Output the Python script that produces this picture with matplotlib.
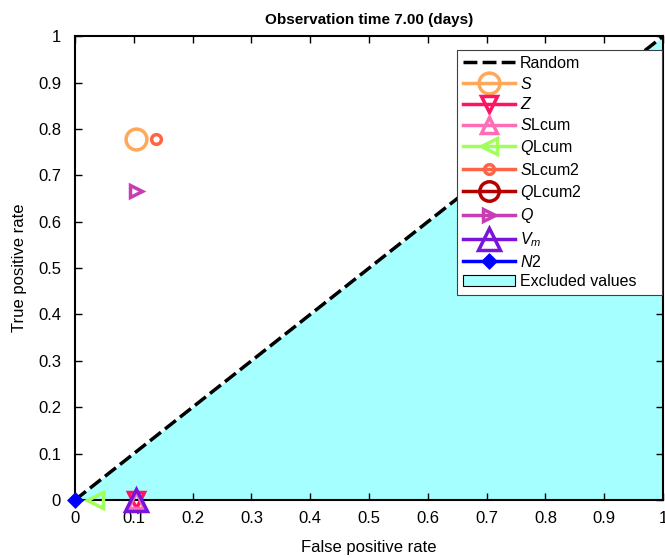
import matplotlib
matplotlib.use("Agg")
import matplotlib.pyplot as plt
from matplotlib.patches import Patch

plt.rcParams['font.family'] = ['Liberation Sans', 'DejaVu Sans']
plt.rcParams['mathtext.fontset'] = 'custom'
plt.rcParams['mathtext.it'] = 'Liberation Sans:italic'
plt.rcParams['mathtext.rm'] = 'Liberation Sans'

# ROC points per classifier (false positive rate, true positive rate)
# QLcum2 has no visible point in the chart, only a legend entry
names = [r'$S$', r'$Z$', r'$S$Lcum', r'$Q$Lcum', r'$S$Lcum2', r'$Q$Lcum2', r'$Q$', r'$V_m$', r'$N$2']
fpr = [3/29, 3/29, 3/29, 1/29, 4/29, float('nan'), 3/29, 3/29, 0.0]
tpr = [7/9, 0.0, 0.0, 0.0, 7/9, float('nan'), 6/9, 0.0, 0.0]
colors = ['#FFA85A', '#FF1464', '#FF6EB4', '#A0FF5A', '#FF6446', '#B40000', '#C83CB4', '#7814DC', '#0000FF']
markers = ['o', 'v', '^', '<', 'o', 'o', '>', '^', 'D']
sizes = [15, 12, 12, 12, 7, 14, 9, 16, 6]
filled = [False, False, False, False, False, False, False, False, True]

fig = plt.figure(figsize=(6.65, 5.58), dpi=100)
ax = fig.add_axes([0.1128, 0.104, 0.8842, 0.831])

ax.fill_between([0, 1], [0, 1], [0, 0], color='#A6FFFF', linewidth=0, zorder=0)
ax.plot([0, 1], [0, 1], '--', color='black', linewidth=2.5, dashes=(4, 1.5), label='Random', zorder=1)

for n, x, y, c, m, s, f in zip(names, fpr, tpr, colors, markers, sizes, filled):
    ax.plot([x], [y], marker=m, markersize=s, color=c, markerfacecolor=c if f else 'none',
            markeredgewidth=2.5, linewidth=2.5, linestyle='-', label=n, zorder=3,
            clip_on=False)

handles, labels = ax.get_legend_handles_labels()
handles.append(Patch(facecolor='#A6FFFF', edgecolor='black', linewidth=0.8))
labels.append('Excluded values')
leg = ax.legend(handles, labels, loc='upper left', bbox_to_anchor=(0.6497, 0.0, 0.348, 0.97),
                mode='expand', fontsize=11.5, frameon=True, fancybox=False, framealpha=1,
                edgecolor='#404040', borderaxespad=0, handlelength=3.3,
                handletextpad=0.3, labelspacing=0.3, borderpad=0.35)
leg.get_frame().set_linewidth(0.8)

ax.set_xlim(0, 1)
ax.set_ylim(0, 1)
ticks = [0, 0.1, 0.2, 0.3, 0.4, 0.5, 0.6, 0.7, 0.8, 0.9, 1]
ticklabels = ['0', '0.1', '0.2', '0.3', '0.4', '0.5', '0.6', '0.7', '0.8', '0.9', '1']
ax.set_xticks(ticks)
ax.set_yticks(ticks)
ax.set_xticklabels(ticklabels)
ax.set_yticklabels(ticklabels)
ax.tick_params(direction='in', length=5, width=1, labelsize=12, top=True, right=True)
ax.tick_params(axis='x', pad=8)
ax.tick_params(axis='y', pad=10)
for sp in ax.spines.values():
    sp.set_linewidth(1.5)

ax.set_xlabel('False positive rate', fontsize=12, labelpad=10)
ax.set_ylabel('True positive rate', fontsize=12, labelpad=8)
ax.set_title('Observation time 7.00 (days)', fontsize=11, fontweight='bold', pad=9)

fig.savefig('out.png', dpi=100)
